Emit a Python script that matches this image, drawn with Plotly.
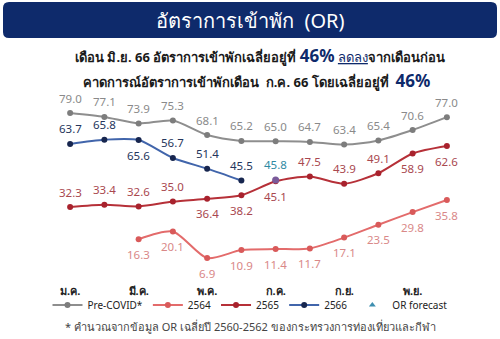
import plotly.graph_objects as go

# Monthly hotel occupancy rate (%)
months = list(range(1, 13))
tick_vals = [1, 3, 5, 7, 9, 11]
tick_text = ["ม.ค.", "มี.ค.", "พ.ค.", "ก.ค.", "ก.ย.", "พ.ย."]

pre_covid = [79.0, 77.1, 73.9, 75.3, 68.1, 65.2, 65.0, 64.7, 63.4, 65.4, 70.6, 77.0]
occ_2564 = [None, None, 16.3, 20.1, 6.9, 10.9, 11.4, 11.7, 17.1, 23.5, 29.8, 35.8]
occ_2565 = [32.3, 33.4, 32.6, 35.0, 36.4, 38.2, 45.1, 47.5, 43.9, 49.1, 58.9, 62.6]
occ_2566 = [63.7, 65.8, 65.6, 56.7, 51.4, 45.5]
forecast_month = [7]
forecast_value = [45.8]

# label placement: +1 above the point, -1 below
pos_pre = [1] * 12
pos_2564 = [-1] * 12
pos_2565 = [1, 1, 1, 1, -1, -1, -1, 1, 1, 1, -1, -1]
pos_2566 = [1, 1, -1, 1, 1, 1]

FONT = "Tahoma, 'Noto Sans', 'DejaVu Sans', sans-serif"
NAVY = "#0e2a6b"

# figure geometry in pixels, used to place page-level text in paper units
W, H = 500, 339
M_L, M_R, M_T, M_B = 53, 36, 91, 67
PLOT_W = W - M_L - M_R
PLOT_H = H - M_T - M_B

def px_x(px):
    return (px - M_L) / PLOT_W

def px_y(py):
    return (H - M_B - py) / PLOT_H

fig = go.Figure()

def add_series(name, ys, line_color, marker_color):
    fig.add_trace(go.Scatter(
        x=months[:len(ys)], y=ys, name=name, mode="lines+markers",
        line=dict(color=line_color, width=2, shape="spline", smoothing=0.7),
        marker=dict(color=marker_color, size=6),
        connectgaps=False, cliponaxis=False,
    ))

add_series("Pre-COVID*", pre_covid, "#8e8e8e", "#7d7d7d")
add_series("2564", occ_2564, "#e36b6b", "#d95a5a")
add_series("2565", occ_2565, "#b63038", "#a8222d")
add_series("2566", occ_2566, "#4165ab", "#17264f")
fig.add_trace(go.Scatter(
    x=forecast_month, y=forecast_value, name="OR forecast", mode="markers",
    marker=dict(color="#7a5a9a", size=7, symbol="circle"),
    showlegend=False, cliponaxis=False,
))
fig.add_trace(go.Scatter(
    x=[None], y=[None], name="OR forecast", mode="markers",
    marker=dict(color="#3e8fb0", size=6, symbol="triangle-up"),
))

annotations = []

def add_labels(ys, positions, color):
    for m, v, p in zip(months, ys, positions):
        if v is None:
            continue
        annotations.append(dict(
            x=m, y=v, text=f"{v:.1f}", showarrow=False,
            yshift=15 * p, font=dict(size=11.5, color=color, family=FONT),
        ))

add_labels(pre_covid, pos_pre, "#8a8a8a")
add_labels(occ_2564, pos_2564, "#d98888")
add_labels(occ_2565, pos_2565, "#a9484f")
add_labels(occ_2566, pos_2566, "#25355c")
for m, v in zip(forecast_month, forecast_value):
    annotations.append(dict(
        x=m, y=v, text=f"{v:.1f}", showarrow=False, yshift=15,
        font=dict(size=11.5, color="#2f8aa3", family=FONT),
    ))

# Header, subtitle and footnote
def page_text(text, cx, cy, size, color):
    annotations.append(dict(
        xref="paper", yref="paper", x=px_x(cx), y=px_y(cy),
        xanchor="center", yanchor="middle",
        text=text, showarrow=False, font=dict(size=size, color=color, family=FONT),
    ))

page_text("อัตราการเข้าพัก  (OR)", 250, 20, 20, "white")
page_text("<b>เดือน มิ.ย. 66 อัตราการเข้าพักเฉลี่ยอยู่ที่ </b>"
          f"<span style='color:{NAVY};font-size:17px'><b>46%</b></span> "
          f"<span style='color:{NAVY}'><u>ลดลง</u></span>"
          "<b>จากเดือนก่อน</b>",
          260, 55, 13, "#1a1a1a")
page_text("<b>คาดการณ์อัตราการเข้าพักเดือน  ก.ค. 66 โดยเฉลี่ยอยู่ที่</b>  "
          f"<span style='color:{NAVY};font-size:17px'><b>46%</b></span>",
          256, 80, 13, "#1a1a1a")
page_text("* คำนวณจากข้อมูล OR เฉลี่ยปี 2560-2562 ของกระทรวงการท่องเที่ยวและกีฬา",
          250, 326, 11, "#444444")

# Rounded header banner
x0, x1, y0, y1 = px_x(3), px_x(497), px_y(38), px_y(2)
rx, ry = 6 / PLOT_W, 6 / PLOT_H
banner = (f"M {x0+rx} {y1} L {x1-rx} {y1} Q {x1} {y1} {x1} {y1-ry} "
          f"L {x1} {y0+ry} Q {x1} {y0} {x1-rx} {y0} "
          f"L {x0+rx} {y0} Q {x0} {y0} {x0} {y0+ry} "
          f"L {x0} {y1-ry} Q {x0} {y1} {x0+rx} {y1} Z")

fig.update_layout(
    width=W, height=H,
    margin=dict(l=M_L, r=M_R, t=M_T, b=M_B, autoexpand=False),
    paper_bgcolor="white", plot_bgcolor="white",
    font=dict(family=FONT, color="#222222"),
    annotations=annotations,
    shapes=[dict(type="path", path=banner, xref="paper", yref="paper",
                 fillcolor=NAVY, line=dict(width=0), layer="below")],
    xaxis=dict(range=[0.5, 12.5], tickvals=tick_vals, ticktext=tick_text,
               showgrid=False, zeroline=False, showline=False, ticks="",
               ticklabelstandoff=11, automargin=False,
               tickfont=dict(size=11, color="#222222", family=FONT, weight="bold")),
    yaxis=dict(range=[0, 90], visible=False, showgrid=False, automargin=False),
    showlegend=True,
    legend=dict(orientation="h", xref="container", yref="container",
                x=0.5, xanchor="center", y=1 - 305 / H, yanchor="middle",
                font=dict(size=10, color="#222222", family=FONT),
                itemwidth=30, tracegroupgap=0, bgcolor="rgba(0,0,0,0)"),
)

fig.write_html("out.html")
